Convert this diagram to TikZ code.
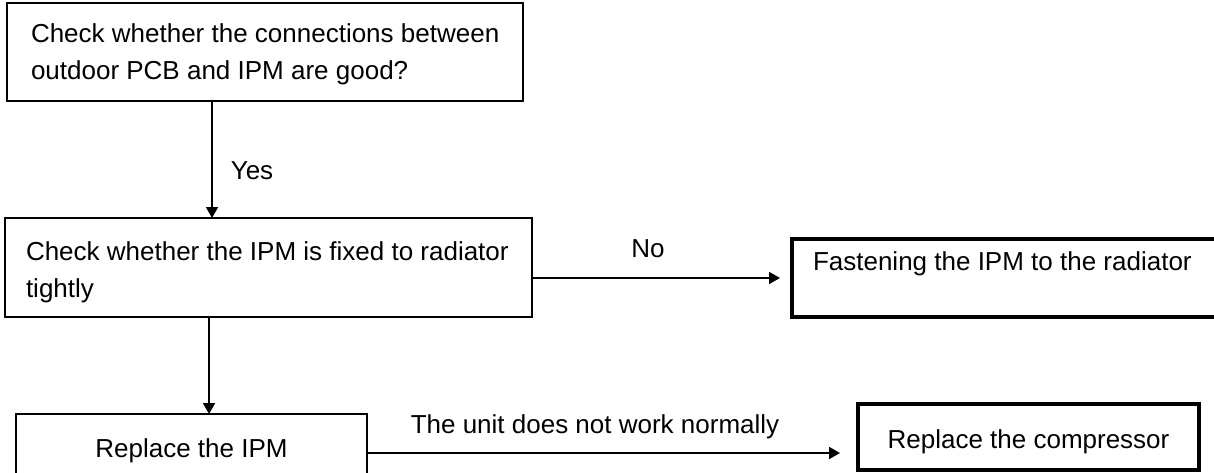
\documentclass[tikz,border=0pt]{standalone}
\usepackage{fontspec}
\setmainfont{Liberation Sans}
\usetikzlibrary{arrows.meta}
\begin{document}
\begin{tikzpicture}[x=1pt,y=-1pt,
  box/.style={draw,rectangle,line width=1.6pt,inner sep=0pt,outer sep=0pt},
  heavybox/.style={draw,rectangle,line width=4.5pt,inner sep=0pt,outer sep=0pt},
  txt/.style={inner sep=0pt,outer sep=0pt,font=\fontsize{26}{37}\selectfont},
  arr/.style={line width=1.8pt,-{Triangle[length=11pt,width=12pt]}}]
\useasboundingbox (0,0) rectangle (1214,473);
% boxes
\node[box,minimum width=516,minimum height=98] (b1) at (265,52) {};
\node[box,minimum width=527,minimum height=99] (b2) at (268.5,267.5) {};
\node[heavybox,minimum width=448,minimum height=78] (b3) at (1016,278) {};
\node[box,minimum width=351,minimum height=76] (b4) at (191.5,452) {};
\node[heavybox,minimum width=341,minimum height=66] (b5) at (1028.5,437) {};
% texts
\node[txt,anchor=base west] (t1a) at (31,43) {Check whether the connections between};
\node[txt,anchor=base west] (t1b) at (31,80) {outdoor PCB and IPM are good?};
\node[txt,anchor=base west] (t2a) at (26,260) {Check whether the IPM is fixed to radiator};
\node[txt,anchor=base west] (t2b) at (26,297) {tightly};
\node[txt,anchor=base west] (t3) at (813,270) {Fastening the IPM to the radiator};
\node[txt,anchor=base] (t4) at (191.5,457) {Replace the IPM};
\node[txt,anchor=base] (t5) at (1028.5,448) {Replace the compressor};
% connectors
\coordinate (c1) at (212,0);
\coordinate (c2) at (209,0);
\coordinate (c3) at (0,278);
\coordinate (c4) at (0,453);
\draw[arr] (b1.south -| c1) -- (b2.north -| c1);
\draw[arr] (b2.south -| c2) -- (b4.north -| c2);
\draw[arr,shorten >=12pt] (b2.east |- c3) -- (b3.west |- c3);
\draw[arr,shorten >=18pt] (b4.east |- c4) -- (b5.west |- c4);
% labels
\node[txt,anchor=base] (lyes) at (252,179) {Yes};
\node[txt,anchor=base] (lno) at (648,257) {No};
\node[txt,anchor=base] (lunit) at (595,433) {The unit does not work normally};
\end{tikzpicture}
\end{document}
